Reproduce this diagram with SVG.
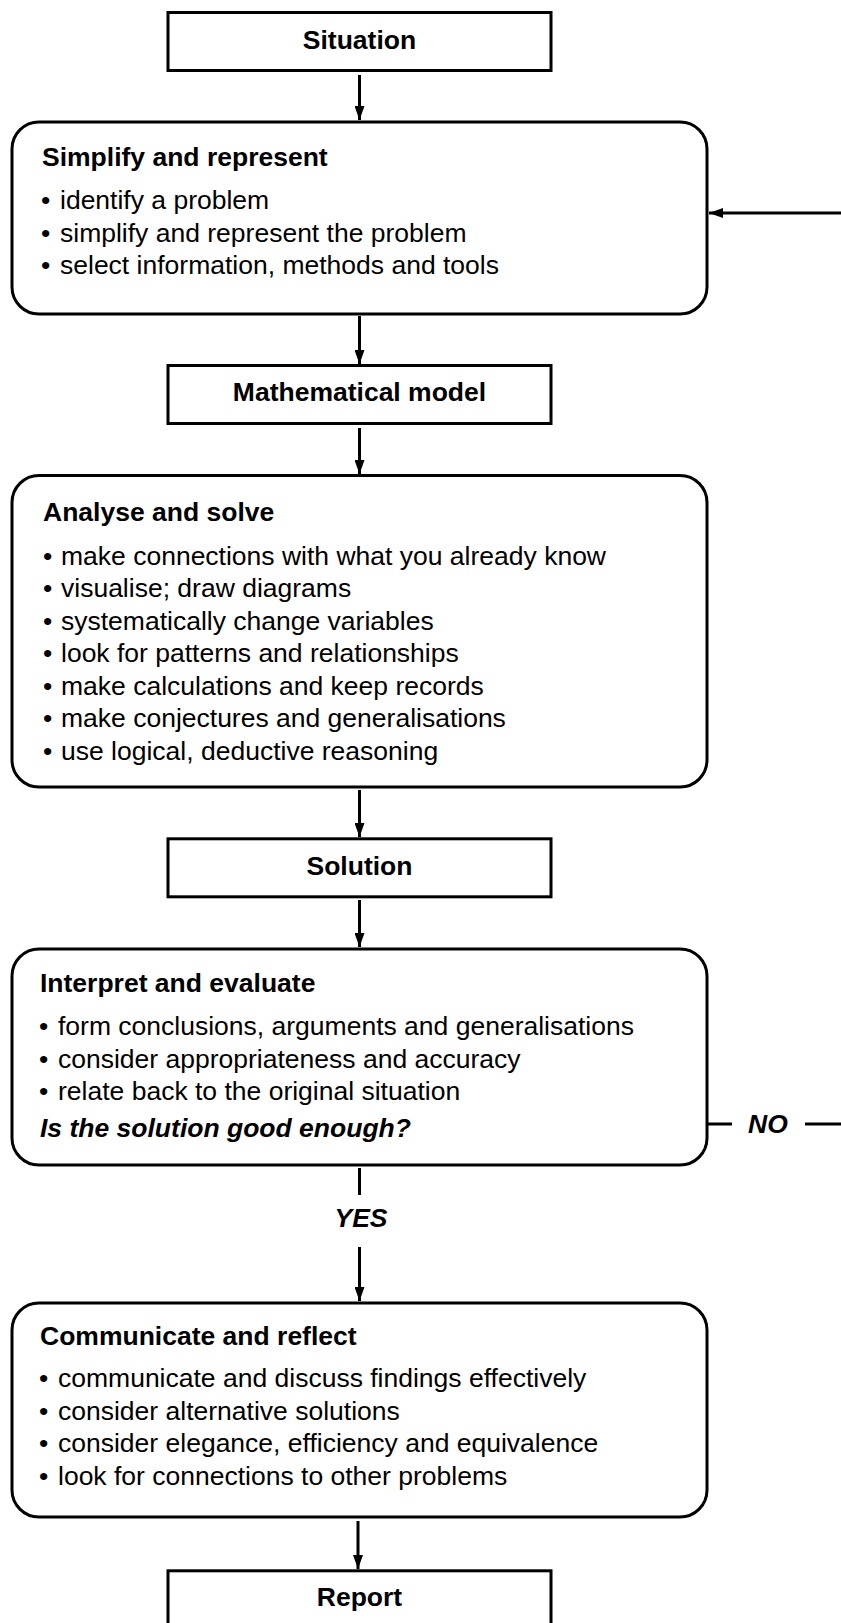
<svg xmlns="http://www.w3.org/2000/svg" width="841" height="1623" viewBox="0 0 841 1623">
<style>
.box{fill:#fff;stroke:#000;stroke-width:3}
.t{font-family:"Liberation Sans",Arial,Helvetica,sans-serif;font-size:26.5px;fill:#000}
.b{font-weight:bold}
.c{text-anchor:middle}
.bi{font-weight:bold;font-style:italic}
.ln{fill:none;stroke:#000;stroke-width:3}
</style>
<defs>
<marker id="ah" viewBox="0 0 14 10" refX="14" refY="5" markerWidth="14" markerHeight="10" markerUnits="userSpaceOnUse" orient="auto">
<path d="M0,0 L14,5 L0,10 z" fill="#000"/>
</marker>
</defs>
<rect width="841" height="1623" fill="#fff"/>
<g id="connectors">
<line class="ln" x1="359.5" y1="75" x2="359.5" y2="120" marker-end="url(#ah)"/>
<line class="ln" x1="359.5" y1="316" x2="359.5" y2="364" marker-end="url(#ah)"/>
<line class="ln" x1="359.5" y1="428" x2="359.5" y2="474" marker-end="url(#ah)"/>
<line class="ln" x1="359.5" y1="790" x2="359.5" y2="837" marker-end="url(#ah)"/>
<line class="ln" x1="359.5" y1="900" x2="359.5" y2="947" marker-end="url(#ah)"/>
<line class="ln" x1="359.5" y1="1168" x2="359.5" y2="1195"/>
<line class="ln" x1="359.5" y1="1247" x2="359.5" y2="1301" marker-end="url(#ah)"/>
<line class="ln" x1="358" y1="1521" x2="358" y2="1569" marker-end="url(#ah)"/>
<line class="ln" x1="708" y1="1124" x2="732" y2="1124"/>
<path class="ln" d="M805,1124 H860 V213 H709" marker-end="url(#ah)"/>
<text class="t bi" x="748" y="1133">NO</text>
<text class="t bi c" x="361" y="1227">YES</text>
</g>
<g id="situation">
<rect class="box" x="168" y="12.5" width="383" height="58"/>
<text class="t b c" x="359.5" y="48.5">Situation</text>
</g>
<g id="simplify">
<rect class="box" x="12" y="122" width="695" height="192" rx="27" ry="27"/>
<text class="t b" x="42" y="166">Simplify and represent</text>
<text class="t" y="209"><tspan x="41">•</tspan><tspan x="60">identify a problem</tspan></text>
<text class="t" y="241.5"><tspan x="41">•</tspan><tspan x="60">simplify and represent the problem</tspan></text>
<text class="t" y="274"><tspan x="41">•</tspan><tspan x="60">select information, methods and tools</tspan></text>
</g>
<g id="model">
<rect class="box" x="168" y="365.5" width="383" height="58"/>
<text class="t b c" x="359.5" y="401">Mathematical model</text>
</g>
<g id="analyse">
<rect class="box" x="12" y="475.5" width="695" height="311.5" rx="27" ry="27"/>
<text class="t b" x="43" y="521">Analyse and solve</text>
<text class="t" y="564.5"><tspan x="43">•</tspan><tspan x="61">make connections with what you already know</tspan></text>
<text class="t" y="597"><tspan x="43">•</tspan><tspan x="61">visualise; draw diagrams</tspan></text>
<text class="t" y="629.5"><tspan x="43">•</tspan><tspan x="61">systematically change variables</tspan></text>
<text class="t" y="662"><tspan x="43">•</tspan><tspan x="61">look for patterns and relationships</tspan></text>
<text class="t" y="694.5"><tspan x="43">•</tspan><tspan x="61">make calculations and keep records</tspan></text>
<text class="t" y="727"><tspan x="43">•</tspan><tspan x="61">make conjectures and generalisations</tspan></text>
<text class="t" y="759.5"><tspan x="43">•</tspan><tspan x="61">use logical, deductive reasoning</tspan></text>
</g>
<g id="solution">
<rect class="box" x="168" y="838.8" width="383" height="58"/>
<text class="t b c" x="359.5" y="875">Solution</text>
</g>
<g id="interpret">
<rect class="box" x="12" y="949" width="695" height="216" rx="27" ry="27"/>
<text class="t b" x="40" y="992">Interpret and evaluate</text>
<text class="t" y="1035"><tspan x="39">•</tspan><tspan x="58">form conclusions, arguments and generalisations</tspan></text>
<text class="t" y="1067.5"><tspan x="39">•</tspan><tspan x="58">consider appropriateness and accuracy</tspan></text>
<text class="t" y="1100"><tspan x="39">•</tspan><tspan x="58">relate back to the original situation</tspan></text>
<text class="t bi" x="40" y="1137">Is the solution good enough?</text>
</g>
<g id="communicate">
<rect class="box" x="12" y="1303" width="695" height="214" rx="27" ry="27"/>
<text class="t b" x="40" y="1345">Communicate and reflect</text>
<text class="t" y="1387"><tspan x="39">•</tspan><tspan x="58">communicate and discuss findings effectively</tspan></text>
<text class="t" y="1419.5"><tspan x="39">•</tspan><tspan x="58">consider alternative solutions</tspan></text>
<text class="t" y="1452"><tspan x="39">•</tspan><tspan x="58">consider elegance, efficiency and equivalence</tspan></text>
<text class="t" y="1484.5"><tspan x="39">•</tspan><tspan x="58">look for connections to other problems</tspan></text>
</g>
<g id="report">
<rect class="box" x="168" y="1570.8" width="383" height="100"/>
<text class="t b c" x="359.5" y="1606">Report</text>
</g>
</svg>
